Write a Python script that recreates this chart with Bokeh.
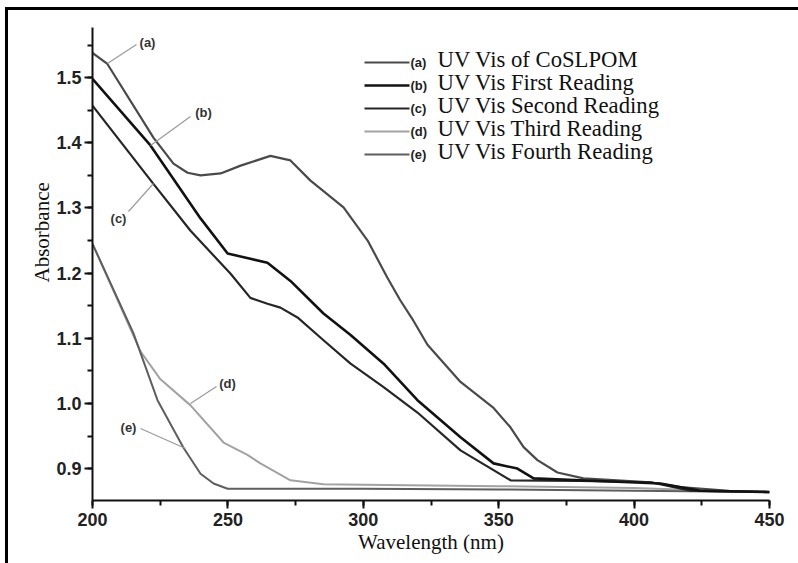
import math
from bokeh.plotting import figure
from bokeh.models import (SingleIntervalTicker, PrintfTickFormatter, Label, Arrow, Range1d, Title)
from bokeh.embed import file_html
from bokeh.resources import INLINE

# ---------------- data ----------------
wl_a = [200, 205.5, 222.5, 229.9, 235.1, 239.9, 247.3, 254.7, 265.7, 273.1, 280.5, 292.7,
        301.6, 308.9, 313.7, 318.5, 323.7, 335.9, 348.1, 354.4, 359.2, 364.3, 371.7, 381.3,
        406.1, 418.2, 435, 450]
abs_a = [1.538, 1.521, 1.408, 1.368, 1.354, 1.350, 1.353, 1.365, 1.380, 1.373, 1.342, 1.301,
         1.250, 1.193, 1.158, 1.127, 1.090, 1.033, 0.993, 0.963, 0.933, 0.913, 0.894, 0.885,
         0.879, 0.871, 0.866, 0.864]

wl_b = [200, 221.4, 239.9, 249.9, 258.3, 264.6, 273.1, 285.3, 295.3, 307.5, 320, 335.9,
        348.1, 356.9, 362.9, 380, 409.7, 424.5, 450]
abs_b = [1.498, 1.396, 1.284, 1.230, 1.222, 1.216, 1.188, 1.138, 1.105, 1.061, 1.005, 0.948,
         0.908, 0.900, 0.885, 0.882, 0.877, 0.866, 0.864]

wl_c = [200, 222.5, 236.2, 251, 258.3, 264.6, 269.4, 275.7, 285.3, 295.3, 307.5, 320,
        335.9, 354.4, 380, 406, 420.8, 450]
abs_c = [1.457, 1.337, 1.265, 1.199, 1.162, 1.153, 1.147, 1.132, 1.097, 1.061, 1.025, 0.986,
         0.928, 0.882, 0.881, 0.879, 0.866, 0.864]

wl_d = [200, 217.7, 225.1, 236.2, 248.4, 257.2, 262, 273.1, 285.3, 300, 350, 400, 430, 450]
abs_d = [1.245, 1.080, 1.037, 0.997, 0.940, 0.921, 0.908, 0.882, 0.876, 0.875, 0.873, 0.870,
         0.866, 0.864]

wl_e = [200, 215.1, 224, 233.6, 239.9, 244.7, 249.9, 300, 350, 400, 450]
abs_e = [1.245, 1.108, 1.005, 0.932, 0.892, 0.877, 0.869, 0.869, 0.868, 0.866, 0.864]

series_tags = ["(a)", "(b)", "(c)", "(d)", "(e)"]
legend_names = ["UV Vis of CoSLPOM", "UV Vis First Reading", "UV Vis Second Reading",
                "UV Vis Third Reading", "UV Vis Fourth Reading"]
colors = ["#4a4a4a", "#121212", "#262626", "#a2a2a2", "#5e5e5e"]
widths = [2.2, 2.6, 2.2, 2.0, 2.0]

X_MIN, X_MAX = 200, 450
Y_MIN, Y_MAX = 0.851, 1.577

# ---------------- figure ----------------
p = figure(width=790, height=553, x_range=Range1d(X_MIN, X_MAX), y_range=Range1d(Y_MIN, Y_MAX),
           output_backend="svg", toolbar_location=None,
           min_border_left=84, min_border_right=29, min_border_top=17, min_border_bottom=63)
p.margin = (10, 0, 0, 8)
p.styles = {"outline": "3px solid #000", "outline-offset": "0px",
            "clip-path": "inset(-3px 0px 0px -3px)"}
p.outline_line_color = None
p.xgrid.visible = False
p.ygrid.visible = False
p.background_fill_color = "white"
p.border_fill_color = "white"

# helpers: position of annotations given in page pixels -> data coords
FR_L, FR_R, FR_T, FR_B = 92, 769, 27, 500
def X(px):
    return X_MIN + (px - FR_L) * (X_MAX - X_MIN) / (FR_R - FR_L)
def Y(py):
    return Y_MIN + (FR_B - py) * (Y_MAX - Y_MIN) / (FR_B - FR_T)

# curves (gray ones below, dark ones on top)
order = [3, 4, 0, 2, 1]
data = [(wl_a, abs_a), (wl_b, abs_b), (wl_c, abs_c), (wl_d, abs_d), (wl_e, abs_e)]
for i in order:
    xs, ys = data[i]
    p.line(xs, ys, line_color=colors[i], line_width=widths[i], line_join="round")

# axes
for ax in (p.xaxis[0], p.yaxis[0]):
    ax.axis_line_width = 2
    ax.axis_line_color = "#111"
    ax.major_tick_line_width = 2
    ax.minor_tick_line_width = 2
    ax.major_tick_line_color = "#111"
    ax.minor_tick_line_color = "#111"
    ax.major_tick_in = 0
    ax.major_tick_out = 8
    ax.minor_tick_in = 0
    ax.minor_tick_out = 5
    ax.major_label_text_font = "Liberation Sans"
    ax.major_label_text_font_style = "bold"
    ax.major_label_text_font_size = "18px"
    ax.major_label_text_color = "#222"

p.xaxis[0].ticker = SingleIntervalTicker(interval=50, num_minor_ticks=2)
p.yaxis[0].ticker = SingleIntervalTicker(interval=0.1, num_minor_ticks=2)
p.yaxis[0].formatter = PrintfTickFormatter(format="%.1f")
p.xaxis[0].major_label_standoff = 4
p.yaxis[0].major_label_standoff = 3

p.xaxis[0].axis_label = "Wavelength (nm)"
p.xaxis[0].axis_label_text_font = "Liberation Serif"
p.xaxis[0].axis_label_text_font_size = "21px"
p.xaxis[0].axis_label_text_font_style = "normal"
p.xaxis[0].axis_label_text_color = "#111"
p.xaxis[0].axis_label_standoff = 1

p.add_layout(Title(text="Absorbance", align="left", offset=218, standoff=0,
                   text_font="Liberation Serif", text_font_size="21px",
                   text_font_style="normal", text_color="#111"), "left")

# curve tags with leader lines
tag_pos = [(147, 42), (203, 112), (118, 218), (227, 383), (128, 427)]
leaders = [((107, 63), (136, 44)), ((150, 145), (190, 116)), ((128, 211), (153, 183)),
           ((190, 403), (216, 386)), ((140, 428), (185, 448))]
for i in range(5):
    (x0, y0), (x1, y1) = leaders[i]
    p.add_layout(Arrow(end=None, x_start=X(x0), y_start=Y(y0), x_end=X(x1), y_end=Y(y1),
                       line_color="#9a9a9a", line_width=1.2))
    tx, ty = tag_pos[i]
    p.add_layout(Label(x=X(tx), y=Y(ty), text=series_tags[i], text_font="Liberation Sans",
                       text_font_style="bold", text_font_size="13px", text_color="#333",
                       text_align="center", text_baseline="middle"))

# legend (drawn manually to keep the two-font labels)
rows = [62, 85, 108, 131, 154]
for i in range(5):
    r = rows[i]
    p.add_layout(Arrow(end=None, x_start=X(364), y_start=Y(r), x_end=X(409), y_end=Y(r),
                       line_color=colors[i], line_width=widths[i]))
    p.add_layout(Label(x=X(410), y=Y(r), text=series_tags[i], text_font="Liberation Sans",
                       text_font_style="bold", text_font_size="13px", text_color="#222",
                       text_align="left", text_baseline="middle"))
    p.add_layout(Label(x=X(437), y=Y(r - 3), text=legend_names[i], text_font="Liberation Serif",
                       text_font_size="22.7px", text_color="#111",
                       text_align="left", text_baseline="middle"))

open("out.html", "w").write(file_html(p, INLINE))
